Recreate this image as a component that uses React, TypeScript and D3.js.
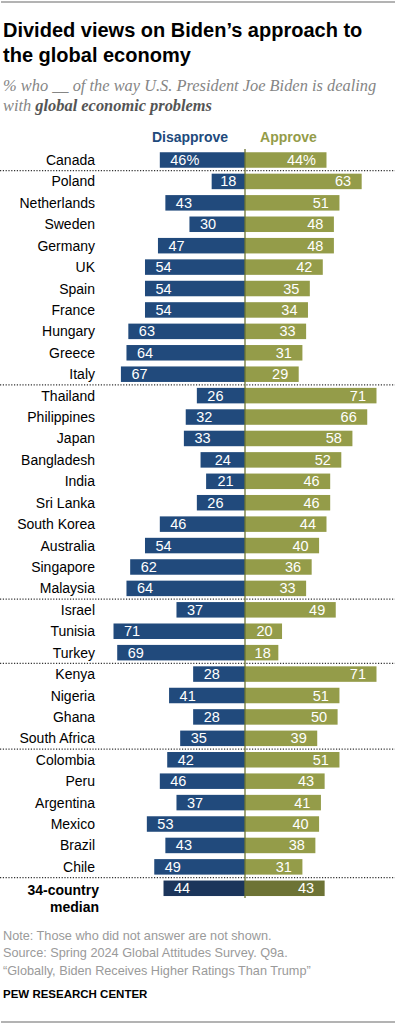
import React from "react";
import * as d3 from "d3";

const countries = ["Canada","Poland","Netherlands","Sweden","Germany","UK","Spain","France","Hungary","Greece","Italy","Thailand","Philippines","Japan","Bangladesh","India","Sri Lanka","South Korea","Australia","Singapore","Malaysia","Israel","Tunisia","Turkey","Kenya","Nigeria","Ghana","South Africa","Colombia","Peru","Argentina","Mexico","Brazil","Chile"];
const disapprove = [46,18,43,30,47,54,54,54,63,64,67,26,32,33,24,21,26,46,54,62,64,37,71,69,28,41,28,35,42,46,37,53,43,49];
const approve = [44,63,51,48,48,42,35,34,33,31,29,71,66,58,52,46,46,44,40,36,33,49,20,18,71,51,50,39,51,43,41,40,38,31];
const medianDisapprove = 44;
const medianApprove = 43;
const groupEnds = [0,10,20,23,27,33];

const BLUE = "#214a7c";
const OLIVE = "#949c49";
const BLUE_D = "#1b355b";
const OLIVE_D = "#6d7335";
const FONT = "'Liberation Sans', Arial, sans-serif";
const SERIF = "'Liberation Serif', 'DejaVu Serif', serif";

export default function App() {
  const W = 398, H = 1024;
  const cx = 245;
  const x = d3.scaleLinear().domain([0, 100]).range([0, 185.2]);
  const rowStep = 21.42;
  const y0 = 160;
  const yc = (i: number) => y0 + i * rowStep;
  const bh = 15.5;

  const rows = countries.map((c, i) => ({ c, d: disapprove[i], a: approve[i], i }));

  const dLabel = (v: number, i: number) => {
    const w = x(v);
    const left = cx - w;
    const txt = i === 0 ? `${v}%` : `${v}`;
    if (w < 45) return <text x={left + w / 2} y={yc(i) + 5} textAnchor="middle" fill="#fff" fontSize={14.5}>{txt}</text>;
    return <text x={left + 10.5} y={yc(i) + 5} textAnchor="start" fill="#fff" fontSize={14.5}>{txt}</text>;
  };
  const aLabel = (v: number, i: number) => {
    const w = x(v);
    const right = cx + w;
    const txt = i === 0 ? `${v}%` : `${v}`;
    if (w < 45) return <text x={cx + w / 2 + 1} y={yc(i) + 5} textAnchor="middle" fill="#fff" fontSize={14.5}>{txt}</text>;
    return <text x={right - 10.5} y={yc(i) + 5} textAnchor="end" fill="#fff" fontSize={14.5}>{txt}</text>;
  };

  const mi = countries.length;

  return (
    <svg width={W} height={H} style={{ position: "absolute", left: 0, top: 0 }} fontFamily={FONT}>
      <line x1={1} x2={395} y1={2} y2={2} stroke="#9a9a9a" strokeWidth={1.5} />
      <text x={3} y={37} fontSize={20} fontWeight="bold" fill="#000">Divided views on Biden’s approach to</text>
      <text x={3} y={62} fontSize={20} fontWeight="bold" fill="#000">the global economy</text>
      <text x={3} y={91} fontSize={16.4} fontStyle="italic" fill="#858585" fontFamily={SERIF}>% who __ of the way U.S. President Joe Biden is dealing</text>
      <text x={3} y={111} fontSize={16.4} fontStyle="italic" fill="#858585" fontFamily={SERIF}>with <tspan fontWeight="bold" fill="#555">global economic problems</tspan></text>

      <text x={190} y={142} textAnchor="middle" fontSize={14} fontWeight="bold" fill={BLUE}>Disapprove</text>
      <text x={288.5} y={142} textAnchor="middle" fontSize={14} fontWeight="bold" fill={OLIVE}>Approve</text>

      {rows.map(r => (
        <g key={r.c}>
          <text x={95} y={yc(r.i) + 5} textAnchor="end" fontSize={14} fill="#000">{r.c}</text>
          <rect x={cx - x(r.d)} y={yc(r.i) - bh / 2} width={x(r.d)} height={bh} fill={BLUE} />
          <rect x={cx} y={yc(r.i) - bh / 2} width={x(r.a)} height={bh} fill={OLIVE} />
          {dLabel(r.d, r.i)}
          {aLabel(r.a, r.i)}
        </g>
      ))}

      {groupEnds.map(g => (
        <line key={g} x1={0} x2={395} y1={yc(g) + rowStep / 2} y2={yc(g) + rowStep / 2} stroke="#333" strokeWidth={1.2} strokeDasharray="1.2,1.6" />
      ))}

      <text x={99} y={895} textAnchor="end" fontSize={14} fontWeight="bold" fill="#000">34-country</text>
      <text x={99} y={912} textAnchor="end" fontSize={14} fontWeight="bold" fill="#000">median</text>
      <rect x={cx - x(medianDisapprove)} y={yc(mi) - bh / 2} width={x(medianDisapprove)} height={bh} fill={BLUE_D} />
      <rect x={cx} y={yc(mi) - bh / 2} width={x(medianApprove)} height={bh} fill={OLIVE_D} />
      <text x={cx - x(medianDisapprove) + 10.5} y={yc(mi) + 5} fill="#fff" fontSize={14.5}>{medianDisapprove}</text>
      <text x={cx + x(medianApprove) - 10.5} y={yc(mi) + 5} textAnchor="end" fill="#fff" fontSize={14.5}>{medianApprove}</text>

      <line x1={cx} x2={cx} y1={149} y2={898} stroke="#6b7334" strokeWidth={1.3} />

      <text x={3} y={940} fontSize={12.7} fill="#9a9a9a">Note: Those who did not answer are not shown.</text>
      <text x={3} y={957} fontSize={12.7} fill="#9a9a9a">Source: Spring 2024 Global Attitudes Survey. Q9a.</text>
      <text x={3} y={975} fontSize={12.7} fill="#9a9a9a">“Globally, Biden Receives Higher Ratings Than Trump”</text>
      <text x={3} y={998} fontSize={11.5} fontWeight="bold" fill="#000">PEW RESEARCH CENTER</text>
      <line x1={1} x2={395} y1={1022} y2={1022} stroke="#9a9a9a" strokeWidth={1.5} />
    </svg>
  );
}
